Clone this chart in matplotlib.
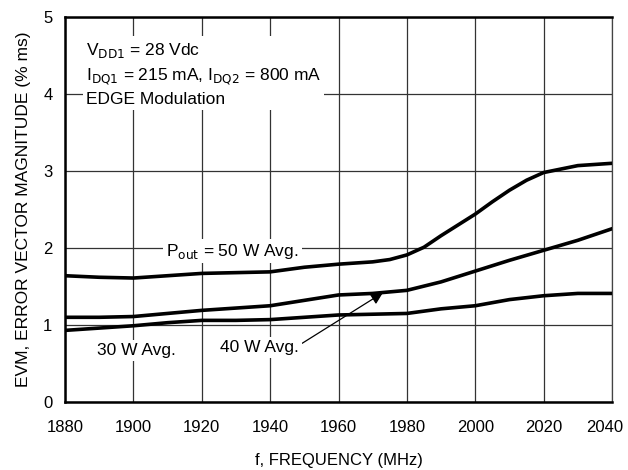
import matplotlib
matplotlib.use("Agg")
import matplotlib.pyplot as plt
import matplotlib.transforms as mtransforms

plt.rcParams["font.family"] = ["Liberation Sans", "DejaVu Sans"]

# values every 10 MHz (5 MHz on the steep part of 50 W)
freq = [1880, 1890, 1900, 1910, 1920, 1930, 1940, 1950, 1960,
        1970, 1980, 1990, 2000, 2010, 2020, 2030, 2040]
freq_50w = [1880, 1890, 1900, 1910, 1920, 1930, 1940, 1950, 1960,
            1970, 1975, 1980, 1985, 1990, 1995, 2000, 2005, 2010, 2015,
            2020, 2030, 2040]
evm_50w = [1.64, 1.62, 1.61, 1.64, 1.67, 1.68, 1.69, 1.75, 1.79,
           1.82, 1.85, 1.91, 2.01, 2.16, 2.30, 2.44, 2.60, 2.75, 2.88,
           2.98, 3.07, 3.10]
evm_40w = [1.10, 1.10, 1.11, 1.15, 1.19, 1.22, 1.25, 1.32, 1.39,
           1.41, 1.45, 1.56, 1.70, 1.84, 1.97, 2.10, 2.25]
evm_30w = [0.93, 0.96, 0.99, 1.03, 1.06, 1.06, 1.07, 1.10, 1.13,
           1.14, 1.15, 1.21, 1.25, 1.33, 1.38, 1.41, 1.41]

x_ticks = [1880, 1900, 1920, 1940, 1960, 1980, 2000, 2020, 2040]
y_ticks = [0, 1, 2, 3, 4, 5]

fig = plt.figure(figsize=(6.28, 4.70), dpi=100)
ax = fig.add_axes([65 / 628, 1 - 402 / 470, 547 / 628, 385 / 470])

ax.plot(freq_50w, evm_50w, color="black", lw=2.6, solid_joinstyle="round", zorder=3)
ax.plot(freq, evm_40w, color="black", lw=2.6, solid_joinstyle="round", zorder=3)
ax.plot(freq, evm_30w, color="black", lw=2.6, solid_joinstyle="round", zorder=3)

ax.set_xlim(1880, 2040)
ax.set_ylim(0, 5)
ax.set_xticks(x_ticks)
ax.set_yticks(y_ticks)
ax.tick_params(length=0, labelsize=12)
ax.tick_params(axis="x", labelsize=12, pad=13)
ax.tick_params(axis="y", pad=9)
ax.grid(True, color="#333333", lw=0.9)
ax.set_axisbelow(True)
for side in ("left", "bottom", "top"):
    ax.spines[side].set_linewidth(1.8)
ax.spines["right"].set_linewidth(0.9)
ax.spines["right"].set_color("#444444")

# last label sits a bit left of its tick, as in the original sheet
last = ax.get_xticklabels()[-1]
last.set_transform(last.get_transform() + mtransforms.ScaledTranslation(-7 / 100, 0, fig.dpi_scale_trans))

ax.set_xlabel("f, FREQUENCY (MHz)", fontsize=12, labelpad=13)
ax.set_ylabel("EVM, ERROR VECTOR MAGNITUDE (% ms)", fontsize=12.5, labelpad=9)

box = dict(facecolor="white", edgecolor="none", pad=2)
ax.text(1886, 4.26, "V$_{\\mathrm{DD1}}$ = 28 Vdc\nI$_{\\mathrm{DQ1}}$ = 215 mA, I$_{\\mathrm{DQ2}}$ = 800 mA\nEDGE Modulation",
        fontsize=12.5, va="center", ha="left", linespacing=1.45, bbox=box, zorder=4)
ax.text(1929, 1.96, "P$_{\\mathrm{out}}$ = 50 W Avg.", fontsize=12.5, ha="center", va="center",
        bbox=box, zorder=4)
ax.text(1901, 0.67, "30 W Avg.", fontsize=12.5, ha="center", va="center", bbox=box, zorder=4)
ax.annotate("40 W Avg.", xy=(1973, 1.42), xytext=(1937, 0.71), fontsize=12.5,
            ha="center", va="center", bbox=box, zorder=4,
            arrowprops=dict(arrowstyle="-|>", color="black", lw=0.9, mutation_scale=18,
                            shrinkA=0, shrinkB=0, relpos=(1.0, 0.65)))

fig.savefig("out.png", dpi=100)
